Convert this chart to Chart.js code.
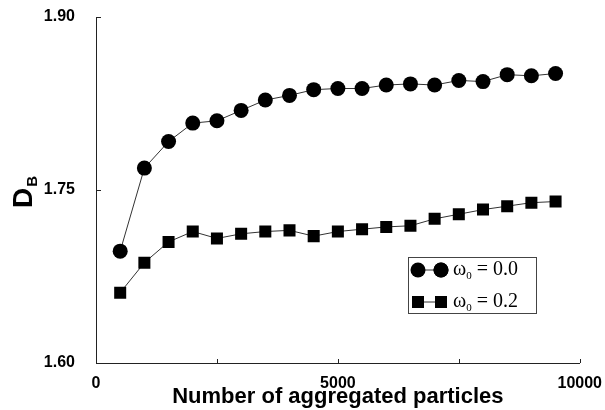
<!DOCTYPE html>
<html>
<head>
<meta charset="utf-8">
<script src="https://cdn.jsdelivr.net/npm/chart.js@4.4.1/dist/chart.umd.min.js"></script>
<style>
  html, body { margin: 0; padding: 0; background: #fff; }
  #wrap { width: 605px; height: 410px; }
</style>
</head>
<body>
<div id="wrap"><canvas id="chart" width="605" height="410"></canvas></div>
<script>
// number of aggregated particles
let particles = [500, 1000, 1500, 2000, 2500, 3000, 3500, 4000, 4500, 5000,
                 5500, 6000, 6500, 7000, 7500, 8000, 8500, 9000, 9500];

// D_B for omega0 = 0.0 (circles)
let dbOmega00 = [1.697, 1.769, 1.792, 1.808, 1.810, 1.819, 1.828, 1.832, 1.837, 1.838,
                 1.838, 1.841, 1.842, 1.841, 1.845, 1.844, 1.850, 1.849, 1.851];

// D_B for omega0 = 0.2 (squares)
let dbOmega02 = [1.661, 1.687, 1.705, 1.714, 1.708, 1.712, 1.714, 1.715, 1.710, 1.714,
                 1.716, 1.718, 1.719, 1.725, 1.729, 1.733, 1.736, 1.739, 1.740];

let seriesNames = ['0.0', '0.2'];
let xTicks = [0, 2500, 5000, 7500, 10000];
let xLabels = [0, 5000, 10000];
let yTicks = [1.60, 1.75, 1.90];

const toPoints = (ys) => particles.map((x, i) => ({x: x, y: ys[i]}));

// inward tick marks on both axes
const tickMarks = {
    id: 'tickMarks',
    afterDatasetsDraw(chart) {
        const ctx = chart.ctx;
        const xs = chart.scales.x, ys = chart.scales.y;
        const area = chart.chartArea;
        ctx.save();
        ctx.strokeStyle = '#222';
        ctx.lineWidth = 1;
        ctx.beginPath();
        xTicks.forEach(v => {
            if (v === 0) return;
            const px = Math.round(xs.getPixelForValue(v)) + 0.5;
            ctx.moveTo(px, area.bottom);
            ctx.lineTo(px, area.bottom - 4);
        });
        yTicks.forEach(v => {
            if (v === yTicks[0]) return;
            const py = Math.round(ys.getPixelForValue(v)) + 0.5;
            ctx.moveTo(area.left, py);
            ctx.lineTo(area.left + 5, py);
        });
        ctx.stroke();
        ctx.restore();
    }
};

// y title "D" with subscript "B", rotated
const yTitle = {
    id: 'yTitle',
    afterDraw(chart) {
        const ctx = chart.ctx;
        ctx.save();
        ctx.translate(32, 208);
        ctx.rotate(-Math.PI / 2);
        ctx.fillStyle = '#000';
        ctx.textBaseline = 'alphabetic';
        ctx.font = 'bold 28px "Liberation Sans", Arial, sans-serif';
        ctx.fillText('D', 0, 0);
        const w = ctx.measureText('D').width;
        ctx.font = 'bold 15px "Liberation Sans", Arial, sans-serif';
        ctx.fillText('B', w + 1, 5);
        ctx.restore();
    }
};

// boxed legend with marker-line-marker samples
const boxLegend = {
    id: 'boxLegend',
    afterDraw(chart) {
        const ctx = chart.ctx;
        const bx = 408, by = 257, bw = 128, bh = 56;
        ctx.save();
        ctx.strokeStyle = '#444';
        ctx.lineWidth = 1;
        ctx.strokeRect(bx + 0.5, by + 0.5, bw, bh);
        chart.data.datasets.forEach((ds, i) => {
            const cy = by + 13 + i * 32;
            const x1 = bx + 10, x2 = bx + 33;
            ctx.strokeStyle = '#333';
            ctx.beginPath();
            ctx.moveTo(x1, cy);
            ctx.lineTo(x2, cy);
            ctx.stroke();
            const opts = {pointStyle: ds.pointStyle, radius: ds.pointRadius, borderWidth: 0};
            ctx.fillStyle = '#000';
            Chart.helpers.drawPoint(ctx, opts, x1, cy);
            Chart.helpers.drawPoint(ctx, opts, x2, cy);
            ctx.fill();
            ctx.fillStyle = '#000';
            ctx.textBaseline = 'middle';
            ctx.font = '20px "Liberation Serif", "Times New Roman", serif';
            let tx = bx + 45;
            ctx.fillText('\u03c9', tx, cy);
            tx += ctx.measureText('\u03c9').width;
            ctx.font = '11px "Liberation Serif", "Times New Roman", serif';
            ctx.fillText('0', tx, cy + 6);
            tx += ctx.measureText('0').width;
            ctx.font = '20px "Liberation Serif", "Times New Roman", serif';
            ctx.fillText(' = ' + seriesNames[i], tx, cy);
        });
        ctx.restore();
    }
};

new Chart(document.getElementById('chart'), {
    type: 'line',
    data: {
        datasets: [
            {
                label: 'ω0 = 0.0',
                data: toPoints(dbOmega00),
                borderColor: '#333',
                borderWidth: 1,
                backgroundColor: '#000',
                pointStyle: 'circle',
                pointRadius: 7.5,
                pointBorderWidth: 0,
                pointBackgroundColor: '#000',
            },
            {
                label: 'ω0 = 0.2',
                data: toPoints(dbOmega02),
                borderColor: '#333',
                borderWidth: 1,
                backgroundColor: '#000',
                pointStyle: 'rect',
                pointRadius: 8.5,
                pointBorderWidth: 0,
                pointBackgroundColor: '#000',
            },
        ],
    },
    options: {
        responsive: false,
        animation: false,
        layout: { padding: { top: 17, right: 18, left: 0, bottom: 0 } },
        plugins: {
            legend: { display: false },
            tooltip: { enabled: false },
        },
        scales: {
            x: {
                type: 'linear',
                min: 0,
                max: 10000,
                afterBuildTicks: (s) => { s.ticks = xTicks.map(v => ({value: v})); },
                afterFit: (s) => { s.height = 47; },
                grid: { display: false },
                border: { color: '#222', width: 1 },
                ticks: {
                    color: '#000',
                    padding: 3,
                    maxRotation: 0,
                    font: { family: '"Liberation Sans", Arial, sans-serif', size: 16, weight: 'bold' },
                    callback: (v) => xLabels.includes(v) ? String(v) : '',
                },
                title: {
                    display: true,
                    text: 'Number of aggregated particles',
                    color: '#000',
                    padding: { top: 0, bottom: 0 },
                    font: { family: '"Liberation Sans", Arial, sans-serif', size: 22, weight: 'bold' },
                },
            },
            y: {
                min: 1.60,
                max: 1.90,
                afterBuildTicks: (s) => { s.ticks = yTicks.map(v => ({value: v})); },
                afterFit: (s) => { s.width = 96; s.paddingTop = 0; s.paddingBottom = 0; },
                grid: { display: false },
                border: { color: '#222', width: 1 },
                ticks: {
                    color: '#000',
                    padding: 13,
                    font: { family: '"Liberation Sans", Arial, sans-serif', size: 16, weight: 'bold' },
                    callback: (v) => Number(v).toFixed(2),
                },
            },
        },
    },
    plugins: [tickMarks, yTitle, boxLegend],
});
</script>
</body>
</html>
